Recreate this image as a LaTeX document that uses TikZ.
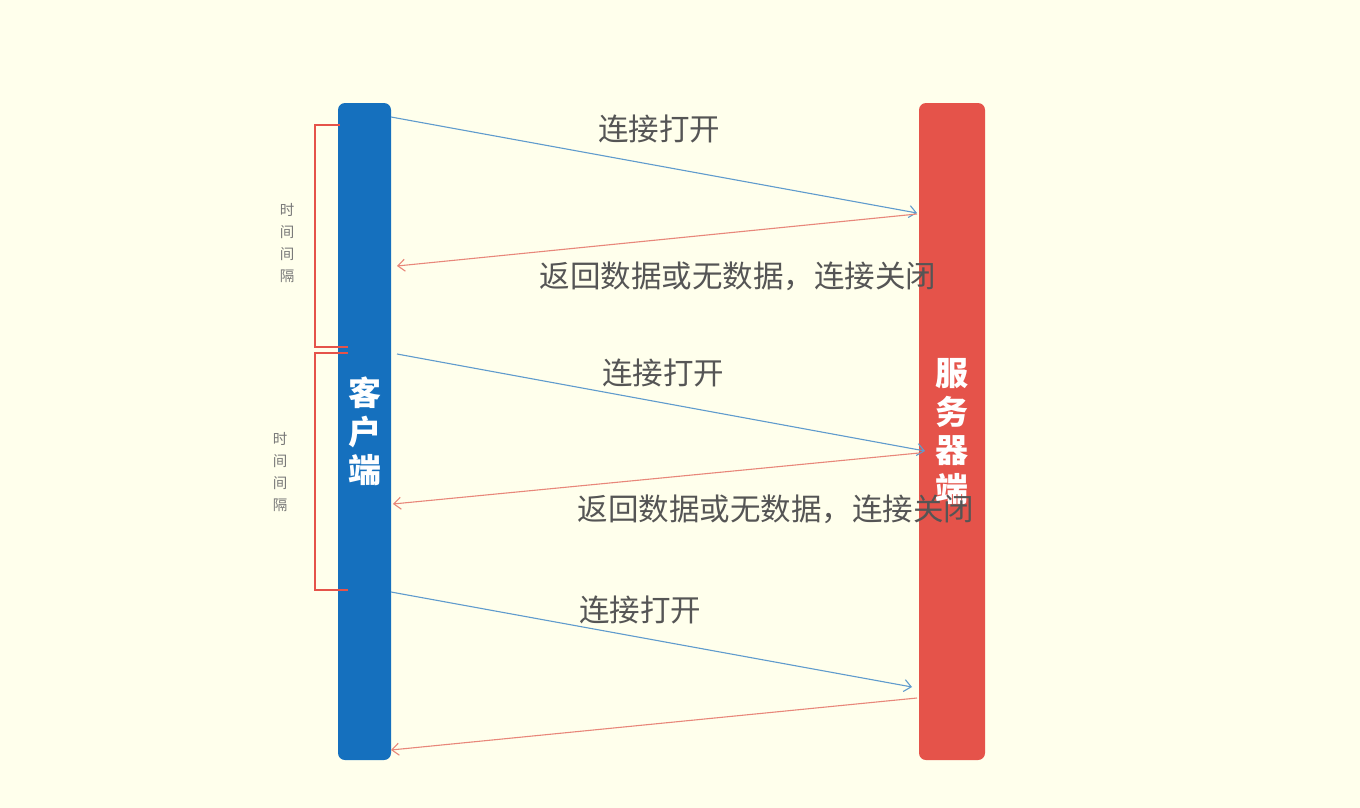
\documentclass[tikz,border=0pt]{standalone}
\usepackage{fontspec}
\setmainfont{Noto Sans CJK SC}
\usetikzlibrary{arrows.meta}
\definecolor{bgyellow}{RGB}{255,255,236}
\definecolor{clientblue}{RGB}{21,112,190}
\definecolor{serverred}{RGB}{229,83,74}
\definecolor{reqblue}{RGB}{95,155,205}
\definecolor{resred}{RGB}{232,135,122}
\definecolor{labelgray}{RGB}{85,85,85}
\definecolor{notegray}{RGB}{120,120,120}

\begin{document}
\begin{tikzpicture}[x=1pt, y=-1pt,
  bar/.style={rounded corners=7pt, inner sep=0pt, text=white, align=center,
    font=\fontsize{33}{38.5}\selectfont\bfseries},
  msg/.style={text=labelgray, inner sep=0pt, font=\fontsize{30.5}{35}\selectfont},
  note/.style={text=notegray, inner sep=0pt, align=center,
    font=\fontsize{14.5}{22}\selectfont},
  req/.style={reqblue, line width=1.1pt, -{Straight Barb[length=7pt,width=12pt]}},
  res/.style={resred, line width=1.1pt, -{Straight Barb[length=7pt,width=12pt]}},
  bracket/.style={serverred, line width=2.8pt}]
  \useasboundingbox (0,0) rectangle (1360,808);
  \fill[bgyellow] (0,0) rectangle (1360,808);
  % the two sides
  \node[bar, fill=clientblue, minimum width=53pt, minimum height=657pt] (client) at (364.5,431.5) {客\\户\\端};
  \node[bar, fill=serverred, minimum width=66pt, minimum height=657pt] (server) at (952,431.5) {服\\务\\器\\端};
  % ends of the messages
  \coordinate (c1) at (391,117);
  \coordinate (s1) at (917,213);
  \coordinate (s2) at (917,214);
  \coordinate (c2) at (397,266);
  \coordinate (c3) at (397,354);
  \coordinate (s3) at (925,451);
  \coordinate (s4) at (919,453);
  \coordinate (c4) at (393,504);
  \coordinate (c5) at (391,592);
  \coordinate (s5) at (912,687);
  \coordinate (s6) at (917,698);
  \coordinate (c6) at (391,750);
  \draw[req] (c1) -- (s1);
  \draw[res] (s2) -- (c2);
  \draw[req] (c3) -- (s3);
  \draw[res] (s4) -- (c4);
  \draw[req] (c5) -- (s5);
  \draw[res] (s6) -- (c6);
  % labels
  \node[msg] (open1) at (659,129) {连接打开};
  \node[msg] (close1) at (738,276) {返回数据或无数据，连接关闭};
  \node[msg] (open2) at (663,373) {连接打开};
  \node[msg] (close2) at (776,509) {返回数据或无数据，连接关闭};
  \node[msg] (open3) at (640,610) {连接打开};
  % intervals
  \draw[bracket] (340,125) -- (315,125) -- (315,347) -- (348,347);
  \draw[bracket] (348,353) -- (315,353) -- (315,590) -- (348,590);
  \node[note] (gap1) at (287,243) {时\\间\\间\\隔};
  \node[note] (gap2) at (280,472) {时\\间\\间\\隔};
\end{tikzpicture}
\end{document}
